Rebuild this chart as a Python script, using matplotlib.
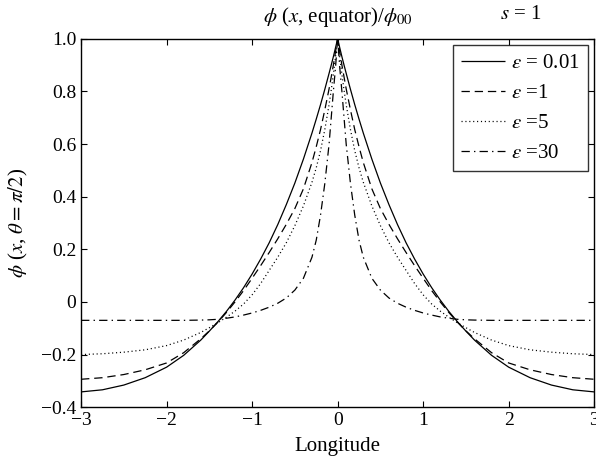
import numpy as np
import matplotlib
matplotlib.use('Agg')
import matplotlib.pyplot as plt

plt.rcParams['font.family'] = ['Liberation Serif', 'DejaVu Serif']
plt.rcParams['mathtext.fontset'] = 'stix'
plt.rcParams['lines.scale_dashes'] = False

# Right half of the curves (they are symmetric about x = 0)
x_half = [0, 0.025, 0.05, 0.075, 0.1, 0.15, 0.2, 0.25, 0.3, 0.4, 0.5, 0.6, 0.7,
          0.8, 0.9, 1.0, 1.1, 1.2, 1.3, 1.4, 1.5, 1.6, 1.8, 2.0, 2.25, 2.5, 2.75, 3.0]
eps_001 = [1.0, 0.966, 0.932, 0.900, 0.869, 0.808, 0.750, 0.695, 0.642, 0.543, 0.452,
           0.370, 0.294, 0.225, 0.163, 0.106, 0.054, 0.007, -0.036, -0.075, -0.111,
           -0.145, -0.203, -0.248, -0.288, -0.316, -0.334, -0.342]
eps_1 = [1.0, 0.95, 0.90, 0.855, 0.81, 0.73, 0.655, 0.59, 0.53, 0.43, 0.355, 0.295,
         0.24, 0.188, 0.138, 0.09, 0.043, 0.0, -0.04, -0.077, -0.11, -0.14, -0.193,
         -0.232, -0.258, -0.276, -0.288, -0.294]
eps_5 = [1.0, 0.93, 0.865, 0.805, 0.75, 0.655, 0.575, 0.51, 0.455, 0.365, 0.29, 0.225,
         0.17, 0.12, 0.07, 0.027, -0.008, -0.035, -0.058, -0.079, -0.098, -0.116,
         -0.145, -0.166, -0.182, -0.191, -0.197, -0.2]
eps_30 = [1.0, 0.89, 0.80, 0.70, 0.60, 0.45, 0.33, 0.235, 0.17, 0.09, 0.045, 0.015,
          -0.005, -0.02, -0.032, -0.042, -0.05, -0.057, -0.062, -0.066, -0.068, -0.069,
          -0.07, -0.07, -0.07, -0.07, -0.07, -0.07]

labels = [r'$\varepsilon$ = 0.01', r'$\varepsilon$ =1', r'$\varepsilon$ =5', r'$\varepsilon$ =30']
styles = [(0, ()), (0, (6, 3.5)), (0, (0.8, 2.0)), (0, (6, 3, 1, 3))]
x_ticks = [-3, -2, -1, 0, 1, 2, 3]
x_tick_labels = ['\u22123', '\u22122', '\u22121', '0', '1', '2', '3']
y_ticks = [1.0, 0.8, 0.6, 0.4, 0.2, 0, -0.2, -0.4]
y_tick_labels = ['1.0', '0.8', '0.6', '0.4', '0.2', '0', '\u22120.2', '\u22120.4']


def mirror(v):
  v = np.asarray(v, dtype=float)
  return np.concatenate([v[:0:-1], v])


xs = np.concatenate([-np.asarray(x_half[:0:-1]), np.asarray(x_half)])

fig = plt.figure(figsize=(5.96, 4.68), dpi=100)
ax = fig.add_axes([0.136, 0.130, 0.861, 0.787])

for ys, lab, ls in zip([eps_001, eps_1, eps_5, eps_30], labels, styles):
  ax.plot(xs, mirror(ys), color='black', linestyle=ls, linewidth=0.9, label=lab)

ax.set_xlim(-3, 3)
ax.set_ylim(-0.4, 1.0)
ax.set_xticks(x_ticks)
ax.set_xticklabels(x_tick_labels)
ax.set_yticks(y_ticks)
ax.set_yticklabels(y_tick_labels)
ax.tick_params(direction='in', top=True, right=True, labelsize=14, length=4, width=0.8)
for s in ax.spines.values():
  s.set_linewidth(1.0)

ax.set_xlabel('Longitude', fontsize=15, labelpad=6)
ax.set_ylabel(r'$\phi$ ($x$, $\theta = \pi/2$)', fontsize=15, labelpad=8)
ax.set_title(r'$\phi$ ($x$, equator)/$\phi_{00}$', fontsize=15, pad=12)
fig.text(0.873, 0.968, r'$s$ = 1', fontsize=15, ha='center', va='center')

leg = ax.legend(loc='upper right', fontsize=15, frameon=True, fancybox=False,
                edgecolor='black', handlelength=2.1, borderaxespad=0.3,
                labelspacing=0.5, handletextpad=0.3, borderpad=0.4)
leg.get_frame().set_linewidth(1.0)

plt.savefig('out.png', dpi=100)
